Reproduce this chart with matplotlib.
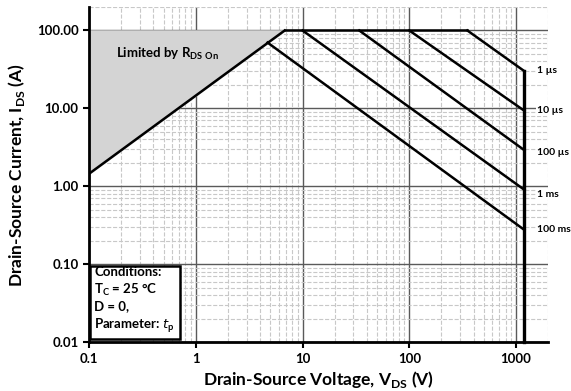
import numpy as np
import matplotlib.pyplot as plt
from matplotlib.ticker import LogLocator, NullFormatter

plt.rcParams['font.family'] = ['Lato', 'DejaVu Sans']

# limit lines (V, A)
rds_v = [0.1, 6.8]
rds_i = [1.45, 100.0]
top_v = [6.8, 350.0]
top_i = [100.0, 100.0]
bv = 1200.0

pulse_labels = ['1 µs', '10 µs', '100 µs', '1 ms', '100 ms']
pulse_v0 = [350.0, 100.0, 34.0, 10.0, 4.7]
pulse_i0 = [100.0, 100.0, 100.0, 100.0, 70.0]
pulse_i1 = [30.0, 9.3, 2.9, 0.9, 0.275]
label_y = [31.0, 9.3, 2.7, 0.78, 0.28]

fig = plt.figure(figsize=(5.71, 3.91), dpi=100)
ax = fig.add_axes([0.156, 0.125, 0.804, 0.857])
ax.set_xscale('log')
ax.set_yscale('log')
ax.set_xlim(0.1, 2000)
ax.set_ylim(0.01, 200)

# grid
ax.xaxis.set_minor_locator(LogLocator(base=10, subs=np.arange(2, 10)))
ax.yaxis.set_minor_locator(LogLocator(base=10, subs=np.arange(2, 10)))
ax.xaxis.set_minor_formatter(NullFormatter())
ax.yaxis.set_minor_formatter(NullFormatter())
ax.grid(which='minor', color='#c8c8c8', linestyle='--', linewidth=0.8)
ax.grid(which='major', color='#5a5a5a', linestyle='-', linewidth=1.0)
ax.set_axisbelow(True)

# shaded R_DS(on) region
ax.fill_between(rds_v, rds_i, [100, 100], color='#d4d4d4', zorder=1.5)

lw = 1.8
ax.plot(rds_v, rds_i, color='black', lw=lw)
ax.plot(top_v, top_i, color='black', lw=lw)
for v0, i0, i1 in zip(pulse_v0, pulse_i0, pulse_i1):
    ax.plot([v0, bv], [i0, i1], color='black', lw=lw)
ax.plot([bv, bv], [pulse_i1[0], 0.01], color='black', lw=2.4, clip_on=False)

for lab, yy in zip(pulse_labels, label_y):
    ax.text(1560, yy, lab, fontsize=7.5, fontweight='bold', ha='left', va='center',
            bbox=dict(boxstyle='square,pad=0.1', fc='white', ec='none'))

ax.text(0.18, 50, 'Limited by R$_{\\mathregular{DS\\ On}}$', fontsize=9.5,
        fontweight='bold', va='center')

ax.text(0.112, 0.0125,
        'Conditions:\nT$_{\\mathregular{C}}$ = 25 °C\nD = 0,\nParameter: $\\mathbf{\\it{t}}_{\\mathregular{p}}$',
        fontsize=9.5, fontweight='bold', va='bottom', ha='left', linespacing=1.28,
        bbox=dict(boxstyle='square,pad=0.35', fc='white', ec='black', lw=1.8))

for s in ['top', 'right']:
    ax.spines[s].set_visible(False)
for s in ['left', 'bottom']:
    ax.spines[s].set_linewidth(2.0)

ax.set_xticks([0.1, 1, 10, 100, 1000])
ax.set_xticklabels(['0.1', '1', '10', '100', '1000'])
ax.set_yticks([0.01, 0.1, 1, 10, 100])
ax.set_yticklabels(['0.01', '0.10', '1.00', '10.00', '100.00'])
ax.tick_params(which='major', length=4, width=1.5, labelsize=9.5)
ax.tick_params(which='minor', length=0)
for t in ax.get_xticklabels() + ax.get_yticklabels():
    t.set_fontweight('bold')

ax.set_xlabel('Drain-Source Voltage, V$_{\\mathregular{DS}}$ (V)', fontsize=12.5,
              fontweight='bold', labelpad=3)
ax.set_ylabel('Drain-Source Current, I$_{\\mathregular{DS}}$ (A)', fontsize=12.5,
              fontweight='bold', labelpad=7)

fig.savefig('out.png', dpi=100)
